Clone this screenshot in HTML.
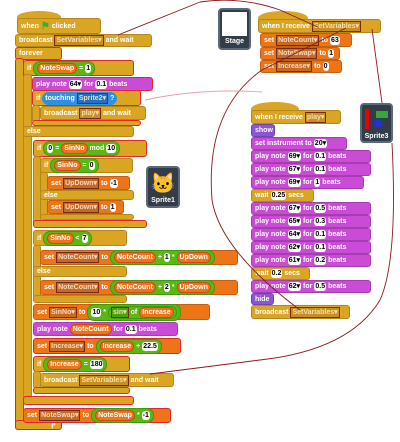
<!DOCTYPE html>
<html><head><meta charset="utf-8"><style>
body{margin:0;width:400px;height:442px;background:#fff;position:relative;overflow:hidden;font-family:"Liberation Sans",sans-serif}
.b{position:absolute;box-sizing:border-box;border-radius:3px;color:#fff;font:bold 7px "Liberation Sans",sans-serif;display:flex;align-items:center;gap:2px;padding-left:3px;white-space:nowrap;border:1px solid rgba(0,0,0,.18);overflow:visible}
.g{background:#dba524}.o{background:#ee7517}.p{background:#c94bd6}.v{background:#8a55d7}
.r{border:1px solid #e3262c}
.in{background:#fff;color:#000;border-radius:3px;padding:0 1px;height:9px;line-height:9px;font-size:7px}
.rep{background:#ee7517;border:1px solid #d0451a;border-radius:6px;padding:0 2px;height:9px;line-height:9px}
.op{background:#5cb712;border-radius:7px;padding:1px 3px;display:flex;align-items:center;gap:2px;border:1px solid #3f9a10}
.tb{background:#2f8fe0;border-radius:7px;padding:1px 3px;display:flex;align-items:center;gap:2px}
.dd{background:#c76a20;border:1px solid #7a2a10;padding:0 1px;height:9px;line-height:9px;color:#f4d8c0}
.ddg{background:#c98e20;border:1px solid #7a2a10;padding:0 1px;height:9px;line-height:9px;color:#f4e0b0}
.spr{position:absolute;background:#333d48;border:2px solid #5a6a7a;border-radius:4px;box-sizing:border-box;color:#fff;font:bold 7px "Liberation Sans",sans-serif;text-align:center}
.hat{position:absolute;border-radius:50% 50% 0 0}
</style></head><body>

<div class="hat" style="left:17px;top:11px;width:44px;height:12px;background:#dba524"></div>
<div class="b g" style="left:17px;top:18px;width:84px;height:16px">when <span style="color:#2db52d;font-size:10px">⚑</span> clicked</div>
<div class="b g" style="left:15px;top:34px;width:137px;height:13px">broadcast <span class="ddg">SetVariables▾</span> and wait</div>

<div class="b g r" style="left:15px;top:47px;width:47px;height:13px">forever</div>
<div class="b g r" style="left:15px;top:58px;width:9px;height:372px;padding:0"></div>
<div class="b g r" style="left:15px;top:420px;width:47px;height:10px;justify-content:flex-end;padding-right:4px;font-size:8px">↱</div>

<div class="b g r" style="left:23px;top:60px;width:111px;height:16px">if <span class="op"><span class="rep">NoteSwap</span>=<span class="in">1</span></span></div>
<div class="b g" style="left:23px;top:74px;width:9px;height:330px;padding:0"></div>
<div class="b g" style="left:23px;top:126px;width:111px;height:11px">else</div>
<div class="b g r" style="left:23px;top:396px;width:111px;height:9px"></div>

<div class="b p r" style="left:32px;top:77px;width:121px;height:14px">play note <span class="in">64▾</span> for <span class="in">0.1</span> beats</div>
<div class="b g r" style="left:32px;top:90px;width:109px;height:16px">if <span class="tb">touching <span class="dd" style="background:#2070c0">Sprite2▾</span>?</span></div>
<div class="b g" style="left:32px;top:105px;width:8px;height:18px;padding:0"></div>
<div class="b g" style="left:40px;top:106px;width:106px;height:14px">broadcast <span class="ddg">play▾</span> and wait</div>
<div class="b g r" style="left:32px;top:120px;width:109px;height:6px"></div>

<div class="b g r" style="left:33px;top:140px;width:114px;height:17px">if <span class="op"><span class="in">0</span>=<span class="rep">SinNo</span>mod<span class="in">10</span></span></div>
<div class="b g" style="left:33px;top:156px;width:8px;height:70px;padding:0"></div>
<div class="b g" style="left:40px;top:158px;width:93px;height:15px">if <span class="op"><span class="rep">SinNo</span>=<span class="in">0</span></span></div>
<div class="b g" style="left:40px;top:172px;width:8px;height:45px;padding:0"></div>
<div class="b o" style="left:47px;top:176px;width:83px;height:14px">set <span class="dd">UpDown▾</span> to <span class="in">-1</span></div>
<div class="b g" style="left:40px;top:190px;width:94px;height:10px">else</div>
<div class="b o" style="left:47px;top:200px;width:77px;height:14px">set <span class="dd">UpDown▾</span> to <span class="in">1</span></div>
<div class="b g" style="left:40px;top:214px;width:94px;height:6px"></div>
<div class="b g r" style="left:33px;top:220px;width:114px;height:8px"></div>

<div class="b g" style="left:33px;top:230px;width:94px;height:16px">if <span class="op"><span class="rep">SinNo</span>&lt;<span class="in">7</span></span></div>
<div class="b g" style="left:33px;top:245px;width:8px;height:55px;padding:0"></div>
<div class="b o" style="left:40px;top:250px;width:198px;height:15px">set <span class="dd">NoteCount▾</span> to <span class="op"><span class="rep">NoteCount</span>+<span class="in">1</span>*<span class="rep">UpDown</span></span></div>
<div class="b g" style="left:33px;top:266px;width:94px;height:11px">else</div>
<div class="b o" style="left:40px;top:280px;width:198px;height:15px">set <span class="dd">NoteCount▾</span> to <span class="op"><span class="rep">NoteCount</span>+<span class="in">2</span>*<span class="rep">UpDown</span></span></div>
<div class="b g" style="left:33px;top:295px;width:94px;height:8px"></div>

<div class="b o" style="left:33px;top:304px;width:177px;height:16px">set <span class="dd">SinNo▾</span> to <span class="op"><span class="in">10</span>*<span class="op" style="padding:0 2px"><span class="ddg" style="background:#4aa010">sin▾</span>of<span class="rep">Increase</span></span></span></div>
<div class="b p" style="left:33px;top:322px;width:145px;height:14px">play note <span class="rep">NoteCount</span> for <span class="in">0.1</span> beats</div>
<div class="b o r" style="left:33px;top:338px;width:148px;height:16px">set <span class="dd">Increase▾</span> to <span class="op"><span class="rep">Increase</span>+<span class="in">22.5</span></span></div>
<div class="b g r" style="left:33px;top:356px;width:97px;height:16px">if <span class="op"><span class="rep">Increase</span>=<span class="in">180</span></span></div>
<div class="b g" style="left:33px;top:371px;width:8px;height:18px;padding:0"></div>
<div class="b g" style="left:40px;top:373px;width:134px;height:14px">broadcast <span class="ddg">SetVariables▾</span> and wait</div>
<div class="b g r" style="left:33px;top:387px;width:97px;height:7px"></div>

<div class="b o r" style="left:23px;top:408px;width:148px;height:15px">set <span class="dd">NoteSwap▾</span> to <span class="op"><span class="rep">NoteSwap</span>*<span class="in">-1</span></span></div>

<div class="spr" style="left:218px;top:8px;width:33px;height:42px;padding-top:2px"><div style="background:#fff;height:24px;margin:0 2px 2px"></div>Stage</div>
<div class="spr" style="left:146px;top:166px;width:34px;height:42px;padding-top:3px"><div style="font-size:20px;color:#f39c1a;height:26px;line-height:26px">🐱</div>Sprite1</div>
<div class="spr" style="left:360px;top:103px;width:33px;height:40px;padding-top:2px"><div style="height:24px;margin:0 2px 2px;position:relative"><div style="position:absolute;left:1px;top:2px;width:4px;height:20px;background:#e00"></div><div style="position:absolute;left:10px;top:12px;width:8px;height:8px;background:#23c"></div><div style="position:absolute;left:12px;top:4px;width:12px;height:7px;background:#3a3"></div></div>Sprite3</div>

<div class="hat" style="left:258px;top:11px;width:50px;height:14px;background:#dba524"></div>
<div class="b g" style="left:258px;top:19px;width:123px;height:14px">when I receive <span class="ddg">SetVariables▾</span></div>
<div class="b o" style="left:260px;top:33px;width:92px;height:14px">set <span class="dd">NoteCount▾</span> to <span class="in">63</span></div>
<div class="b o" style="left:260px;top:47px;width:80px;height:13px">set <span class="dd">NoteSwap▾</span> to <span class="in">1</span></div>
<div class="b o" style="left:260px;top:60px;width:82px;height:13px">set <span class="dd">Increase▾</span> to <span class="in">0</span></div>

<div class="hat" style="left:251px;top:102px;width:48px;height:14px;background:#dba524"></div>
<div class="b g" style="left:251px;top:110px;width:90px;height:14px">when I receive <span class="ddg">play▾</span></div>
<div class="b v" style="left:251px;top:124px;width:24px;height:13px">show</div>
<div class="b p" style="left:251px;top:137px;width:96px;height:13px">set instrument to <span class="in">20▾</span></div>
<div class="b p" style="left:251px;top:150px;width:120px;height:13px">play note <span class="in">69▾</span> for <span class="in">0.1</span> beats</div>
<div class="b p" style="left:251px;top:163px;width:120px;height:13px">play note <span class="in">67▾</span> for <span class="in">0.1</span> beats</div>
<div class="b p" style="left:251px;top:176px;width:113px;height:13px">play note <span class="in">69▾</span> for <span class="in">1</span> beats</div>
<div class="b g" style="left:251px;top:189px;width:63px;height:13px">wait <span class="in">0.25</span> secs</div>
<div class="b p" style="left:251px;top:202px;width:120px;height:13px">play note <span class="in">67▾</span> for <span class="in">0.5</span> beats</div>
<div class="b p" style="left:251px;top:215px;width:120px;height:13px">play note <span class="in">65▾</span> for <span class="in">0.3</span> beats</div>
<div class="b p" style="left:251px;top:228px;width:120px;height:13px">play note <span class="in">64▾</span> for <span class="in">0.1</span> beats</div>
<div class="b p" style="left:251px;top:241px;width:120px;height:13px">play note <span class="in">62▾</span> for <span class="in">0.1</span> beats</div>
<div class="b p" style="left:251px;top:254px;width:120px;height:13px">play note <span class="in">61▾</span> for <span class="in">0.2</span> beats</div>
<div class="b g" style="left:251px;top:267px;width:59px;height:13px">wait <span class="in">0.2</span> secs</div>
<div class="b p" style="left:251px;top:280px;width:120px;height:13px">play note <span class="in">62▾</span> for <span class="in">0.5</span> beats</div>
<div class="b v" style="left:251px;top:293px;width:23px;height:12px">hide</div>
<div class="b g" style="left:251px;top:305px;width:99px;height:14px">broadcast <span class="ddg">SetVariables▾</span></div>

<svg width="400" height="442" style="position:absolute;left:0;top:0;pointer-events:none">
<g fill="none" stroke="#8b1a1a" stroke-width="0.9">
<path d="M118 35 L200 2 Q240 -4 280 10 L318 27"/>
<path d="M372 29 L382 103"/>
<path d="M346 28 L262 70 Q205 110 212 200 Q220 250 300 310"/>
<path d="M392 143 Q398 260 380 300 Q350 350 260 360 L150 374"/>
</g>
<path d="M145 100 Q200 88 262 92" fill="none" stroke="#e8a0b0" stroke-width="0.9"/>
</svg>
</body></html>
